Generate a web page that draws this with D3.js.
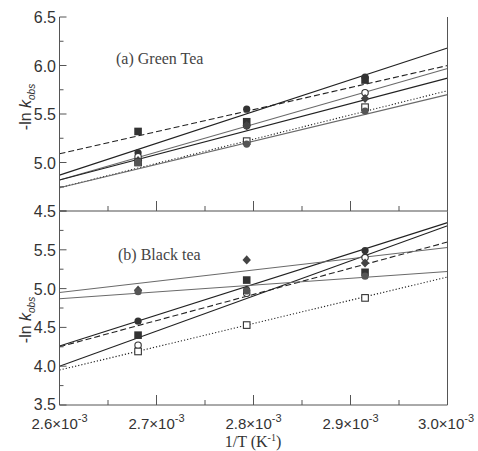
<!DOCTYPE html>
<html><head><meta charset="utf-8">
<script src="https://cdn.jsdelivr.net/npm/d3@7"></script>
<style>body{margin:0;background:#fff}svg{display:block}</style>
</head><body>
<svg id="c" width="478" height="451"></svg>
<script>
// ---- data ----
const invT = [2.681e-3, 2.793e-3, 2.915e-3];
const xTicks = [2.6e-3, 2.7e-3, 2.8e-3, 2.9e-3, 3.0e-3];
const xTickMantissa = ["2.6", "2.7", "2.8", "2.9", "3.0"];
const xFitEnds = [2.6e-3, 3.0e-3];

// panel (a) Green Tea
const greenSymbols = ["circle", "square", "openCircle", "diamond", "openSquare", "grayCircle"];
const greenValues = [
  [5.10, 5.55, 5.88],
  [5.32, 5.42, 5.85],
  [5.06, 5.38, 5.72],
  [5.02, 5.38, 5.66],
  [5.00, 5.22, 5.57],
  [5.00, 5.19, 5.53]
];
const greenFitStart = [4.87, 5.09, 4.82, 4.82, 4.74, 4.74];
const greenFitEnd   = [6.18, 6.00, 5.97, 5.87, 5.74, 5.70];
const greenLineStyle = ["solid", "dashed", "graySolid", "solid", "dotted", "graySolid"];
const greenYTicks = [4.5, 5.0, 5.5, 6.0, 6.5];

// panel (b) Black tea
const blackSymbols = ["circle", "openCircle", "square", "openSquare", "diamond", "grayCircle"];
const blackValues = [
  [4.58, 4.98, 5.49],
  [4.27, 4.94, 5.40],
  [4.40, 5.11, 5.21],
  [4.19, 4.53, 4.88],
  [4.98, 5.37, 5.33],
  [4.96, 4.97, 5.16]
];
const blackFitStart = [4.26, 4.00, 4.25, 3.95, 4.95, 4.87];
const blackFitEnd   = [5.85, 5.81, 5.60, 5.15, 5.53, 5.22];
const blackLineStyle = ["solid", "solid", "dashed", "dotted", "graySolid", "graySolid"];
const blackYTicks = [3.5, 4.0, 4.5, 5.0, 5.5];

// ---- layout ----
const svg = d3.select("#c");
const L = 59.5, R = 447.5;
const x = d3.scaleLinear().domain([2.6e-3, 3.0e-3]).range([L, R]);
const yA = d3.scaleLinear().domain([4.5, 6.5]).range([211, 17]);
const yB = d3.scaleLinear().domain([3.5, 6.0]).range([405, 211]);

const font = "'Liberation Sans', Arial, sans-serif";
const serif = "'Liberation Serif', 'Times New Roman', serif";

function lineAttrs(sel, style) {
  const dark = "#222", gray = "#6a6a6a";
  sel.attr("stroke", style === "graySolid" ? gray : dark)
     .attr("stroke-width", 1.1)
     .attr("fill", "none")
     .attr("stroke-dasharray", style === "dashed" ? "6,3" : style === "dotted" ? "1.2,2" : null);
}

function drawMarker(g, sym, cx, cy) {
  const dark = "#333";
  if (sym === "circle" || sym === "grayCircle") {
    g.append("circle").attr("cx", cx).attr("cy", cy).attr("r", 3.6)
      .attr("fill", sym === "grayCircle" ? "#555" : dark);
  } else if (sym === "openCircle") {
    g.append("circle").attr("cx", cx).attr("cy", cy).attr("r", 3.2)
      .attr("fill", "#fff").attr("stroke", dark).attr("stroke-width", 1.1);
  } else if (sym === "square") {
    g.append("rect").attr("x", cx - 3.8).attr("y", cy - 3.8).attr("width", 7.6).attr("height", 7.6).attr("fill", dark);
  } else if (sym === "openSquare") {
    g.append("rect").attr("x", cx - 3.3).attr("y", cy - 3.3).attr("width", 6.6).attr("height", 6.6)
      .attr("fill", "#fff").attr("stroke", dark).attr("stroke-width", 1.1);
  } else if (sym === "diamond") {
    g.append("path").attr("d", "M0,-4.6L4.2,0L0,4.6L-4.2,0Z")
      .attr("transform", `translate(${cx},${cy})`).attr("fill", "#444");
  }
}

function panel(y, symbols, values, fitStart, fitEnd, styles) {
  const g = svg.append("g");
  symbols.forEach((s, i) => {
    const l = g.append("line")
      .attr("x1", x(xFitEnds[0])).attr("y1", y(fitStart[i]))
      .attr("x2", x(xFitEnds[1])).attr("y2", y(fitEnd[i]));
    lineAttrs(l, styles[i]);
  });
  symbols.forEach((s, i) => {
    values[i].forEach((v, j) => drawMarker(g, s, x(invT[j]), y(v)));
  });
}

panel(yA, greenSymbols, greenValues, greenFitStart, greenFitEnd, greenLineStyle);
panel(yB, blackSymbols, blackValues, blackFitStart, blackFitEnd, blackLineStyle);

// ---- axes ----
const ax = svg.append("g").attr("stroke", "#555").attr("stroke-width", 1);
ax.append("line").attr("x1", L).attr("x2", L).attr("y1", 17).attr("y2", 405);
ax.append("line").attr("x1", R).attr("x2", R).attr("y1", 17).attr("y2", 405);
ax.append("line").attr("x1", L).attr("x2", R).attr("y1", 211).attr("y2", 211).attr("stroke", "#888").attr("stroke-width", 1.4);
ax.append("line").attr("x1", L).attr("x2", R).attr("y1", 405).attr("y2", 405);

function yTicks(y, lo, hi) {
  d3.range(lo, hi + 0.001, 0.25).forEach(v => {
    const major = Math.abs(v * 2 - Math.round(v * 2)) < 1e-6;
    ax.append("line").attr("x1", L).attr("x2", L + (major ? 7 : 4))
      .attr("y1", y(v)).attr("y2", y(v));
  });
}
yTicks(yA, 4.5, 6.5);
yTicks(yB, 3.5, 6.0);

[211, 405].forEach(base => {
  d3.range(0, 9).forEach(k => {
    const v = 2.6e-3 + k * 0.05e-3;
    const major = k % 2 === 0;
    ax.append("line").attr("x1", x(v)).attr("x2", x(v))
      .attr("y1", base).attr("y2", base - (major ? 10 : 5));
  });
});

const lab = svg.append("g").attr("font-family", font).attr("font-size", 16).attr("fill", "#333");
greenYTicks.forEach(v => {
  lab.append("text").attr("x", 56).attr("y", yA(v) + 6).attr("text-anchor", "end").text(d3.format(".1f")(v));
});
blackYTicks.forEach(v => {
  lab.append("text").attr("x", 56).attr("y", yB(v) + (v === 3.5 ? 4.5 : 6)).attr("text-anchor", "end").text(d3.format(".1f")(v));
});

xTicks.forEach((v, i) => {
  const t = lab.append("text").attr("y", 429).attr("font-size", 15)
    .attr("x", i === xTicks.length - 1 ? 474 : x(v))
    .attr("text-anchor", i === xTicks.length - 1 ? "end" : "middle");
  t.append("tspan").text(xTickMantissa[i] + "\u00d710");
  t.append("tspan").attr("dy", -7).attr("font-size", 11).text("-3");
});

function yTitle(cy) {
  const t = svg.append("text").attr("font-family", font).attr("font-size", 16).attr("fill", "#333")
    .attr("text-anchor", "middle").attr("transform", `translate(31,${cy}) rotate(-90)`);
  t.append("tspan").text("-ln ");
  t.append("tspan").attr("font-style", "italic").text("k");
  t.append("tspan").attr("font-style", "italic").attr("font-size", 10).attr("dy", 4).text("obs");
}
yTitle(107);
yTitle(320);

const xt = svg.append("text").attr("font-family", serif).attr("font-size", 16).attr("fill", "#333")
  .attr("x", 253).attr("y", 447).attr("text-anchor", "middle");
xt.append("tspan").text("1/T (K");
xt.append("tspan").attr("font-size", 10).attr("dy", -6).text("-1");
xt.append("tspan").attr("dy", 6).text(")");

svg.append("text").attr("font-family", serif).attr("font-size", 16).attr("fill", "#444")
  .attr("x", 116).attr("y", 64).text("(a) Green Tea");
svg.append("text").attr("font-family", serif).attr("font-size", 16).attr("fill", "#444")
  .attr("x", 118).attr("y", 260).text("(b) Black tea");
</script>
</body></html>
